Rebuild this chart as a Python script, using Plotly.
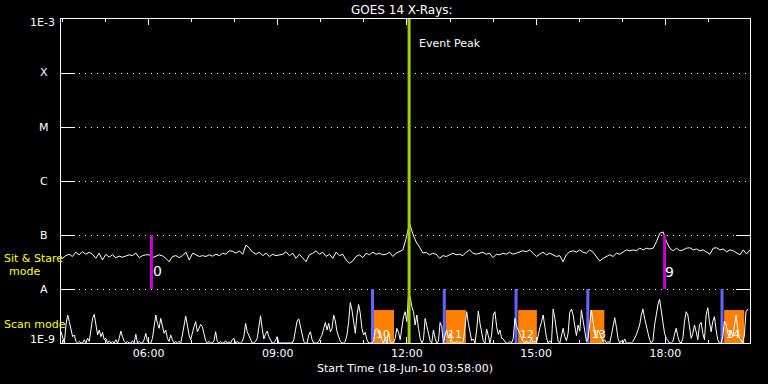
import pandas as pd
import plotly.graph_objects as go

# ---------------- data ----------------
# GOES long channel (1-8 A), in units of 1e-8 W/m^2, one sample every 279 s from 04:00
goes_long_start = "2010-06-18 04:00:00"
goes_long_step_s = 279
goes_long_e8 = [
    3.7, 4.15, 4.4, 4.0, 4.8, 4.3, 4.9, 4.4, 4.8, 4.4,
    3.7, 4.6, 3.45, 4.4, 3.9, 4.3, 3.8, 4.05, 3.87, 4.15,
    4.3, 4.15, 4.65, 3.8, 4.15, 4.3, 4.3, 3.8, 4.05, 4.3,
    4.1, 3.7, 3.2, 4.0, 4.15, 3.8, 4.15, 4.8, 3.45, 4.6,
    4.3, 4.0, 4.15, 4.0, 4.3, 4.05, 4.4, 4.15, 4.6, 4.4,
    5.1, 5.0,
    4.6, 5.1, 4.4, 6.5, 5.7, 4.8, 4.4, 4.8, 4.15, 4.6,
    4.0, 4.4, 4.15, 4.3, 4.4, 4.9, 4.15, 4.6, 3.7, 4.4,
    3.8, 3.2, 4.3, 4.6, 5.1, 4.4, 4.8, 4.0, 4.4, 3.7,
    4.8, 4.15, 4.4, 3.45, 3.0, 3.3, 4.0, 4.3, 3.8, 4.6,
    4.3, 4.8, 4.4, 4.6, 4.3, 4.4, 4.8, 4.0, 4.6, 4.9,
    5.3,
    8.7, 16.5,
    10.5, 7.4, 6.0, 4.65, 4.75,
    4.3, 4.6, 4.4, 3.7, 4.15, 4.0, 4.3, 4.6, 4.3, 4.4,
    4.15, 4.8, 5.3, 4.6, 4.4, 4.6, 4.8, 4.4, 4.6, 3.8,
    4.4, 4.3, 4.6, 4.4, 4.8, 4.4, 4.6, 4.9, 5.1, 4.9,
    5.3, 4.6, 4.0, 4.4, 4.8, 4.3, 4.6, 4.3, 4.0, 4.15,
    3.2, 4.3, 4.9, 5.1, 4.8, 5.3,
    4.8, 4.6, 5.3, 4.8, 4.0, 3.3, 3.7, 4.0, 4.3, 4.0,
    4.6, 4.4, 4.9, 5.3, 5.1, 5.3, 5.1, 5.7, 5.3, 5.7,
    5.5, 5.7, 7.5, 10.8, 11.4, 7.5, 5.7, 5.1, 5.7, 5.1,
    5.3, 5.7, 5.8, 5.3, 5.5, 5.1, 5.3, 4.8, 4.4, 5.7,
    5.8, 5.3, 5.5, 4.9, 5.3, 5.1, 4.6, 4.3, 5.3, 4.45,
    5.3,
]

# GOES short channel, in units of 1e-9 W/m^2, one sample every 139 s from 03:58
goes_short_start = "2010-06-18 03:58:00"
goes_short_step_s = 139
goes_short_e9 = [
    1.62, 1.22, 1.0, 2.15, 3.3, 2.48, 1.74, 1.31, 1.41, 1.07,
    1.0, 1.07, 1.0, 1.0, 1.15, 1.0, 1.22, 1.07, 1.74, 2.86,
    3.4, 2.15, 1.41, 1.74, 1.31, 1.57, 1.15, 1.22, 1.0, 1.1,
    1.0, 1.07, 1.0, 1.15, 1.0, 1.22, 1.66, 1.31, 1.07, 1.0,
    1.07, 1.0, 1.0, 1.1, 1.0, 1.45, 1.0, 1.07, 1.0, 1.0,
    1.15, 1.51, 1.07, 1.0, 1.0, 1.22, 2.31, 3.3, 2.31, 1.87,
    2.86, 2.15, 1.51, 1.74, 1.22, 1.07, 1.41, 1.15, 1.0, 1.07,
    1.0, 1.07, 1.0, 1.41, 2.15, 3.15, 2.15, 1.41, 1.15, 1.62,
    2.01, 2.48, 1.62, 1.87, 2.2, 2.01, 1.41, 1.1, 1.0, 1.07,
    1.0, 1.0, 1.1, 1.62, 1.07, 1.0, 1.07, 1.0, 1.0, 1.1,
    1.0, 1.05, 1.0, 1.15, 1.22,
    1.0, 1.07, 1.0, 1.0, 1.07, 1.31, 2.31, 1.62, 1.37, 1.1,
    1.0, 1.0, 1.07, 1.22, 1.87, 3.2, 1.87, 1.19, 1.45, 1.66,
    1.31, 1.15, 1.0, 1.0, 1.1, 1.31, 1.0, 1.0, 1.0, 1.0,
    1.0, 1.0, 1.0, 1.0, 1.0, 1.15, 1.87, 2.55, 2.8, 2.1,
    1.51, 1.07, 1.0, 1.0, 1.41, 1.62, 1.15, 1.0, 1.0, 1.0,
    1.07, 1.22, 1.41, 1.87, 2.4, 1.74, 2.31, 1.62, 1.87, 3.3,
    2.55, 1.62, 1.37, 1.07, 1.0, 1.0, 1.07, 1.41, 2.48, 5.6,
    4.08, 2.15, 1.51, 3.3, 5.15, 3.54, 1.87, 1.41, 1.57, 1.15,
    1.0, 1.0, 1.0, 1.07, 1.74, 1.87, 1.51, 1.62, 1.15, 1.0,
    1.25, 1.0, 1.57, 1.07, 1.0, 1.0, 1.22, 1.87, 1.57, 1.15,
    2.01, 3.07, 3.8, 2.48,
    7.7, 7.2, 4.7, 3.8, 2.15, 3.3, 1.87, 1.22, 1.0, 1.15,
    2.86, 2.15, 1.62, 1.1, 1.0, 1.74, 1.22, 1.0, 1.07, 2.4,
    2.01, 1.0, 1.41, 1.74, 1.22, 1.51, 1.1, 1.0, 1.0, 1.07,
    1.0, 1.0, 1.0, 1.07, 2.01, 3.8, 2.31, 1.57, 1.1, 1.19,
    1.0, 1.74, 3.9, 2.31, 1.51, 1.07, 1.0, 1.82, 1.37, 1.0,
    1.41, 3.3, 3.8, 2.01, 1.45, 1.74, 1.22, 1.19, 1.05, 1.0,
    1.0, 1.07, 1.0, 1.22, 2.86, 2.01, 1.74, 1.41, 1.25, 1.07,
    1.0, 1.1, 1.0, 1.0, 1.22, 1.0, 1.07, 1.0, 1.45, 1.92,
    2.48, 3.3, 2.01, 1.25, 1.0, 1.1, 1.0, 4.25, 2.86, 1.62,
    1.07, 1.0, 1.41, 1.87, 1.31, 1.1, 1.51, 3.7, 4.25, 3.3,
    2.1, 1.37, 2.15, 1.66,
    4.08, 2.48, 1.51, 1.07, 1.22, 2.48, 4.08, 2.48, 1.51, 1.22,
    1.74, 1.51, 1.31, 1.07, 1.15, 1.0, 1.07, 1.0, 1.37, 2.15,
    2.95, 2.01, 1.22, 1.0, 1.1, 1.0, 1.19, 1.0, 1.0, 1.0,
    1.0, 1.07, 1.22, 1.41, 1.74, 2.15, 3.3, 4.25, 2.86, 2.01,
    1.41, 1.15, 1.0, 1.1, 2.15, 3.54, 5.05, 6.5, 3.8, 2.1,
    1.51, 1.22, 1.1, 1.0, 1.0, 1.07, 1.45, 1.87, 1.31, 1.05,
    1.0, 1.22, 2.48, 3.8, 3.3, 1.87, 1.22, 1.51, 2.15, 1.62,
    1.15, 2.15, 2.4, 1.51, 1.15, 3.3, 4.5, 2.48, 1.62, 2.48,
    3.07, 1.74, 1.15, 1.0, 1.0, 1.31, 2.55, 2.2, 1.51, 1.31,
    1.74, 1.31, 2.01, 3.3, 1.87, 1.22, 1.15, 1.0, 1.41, 3.8,
    4.25,
]

x_range = ["2010-06-18 03:58", "2010-06-18 19:58"]
event_peak = "2010-06-18 12:03"

sit_stare_times = ["2010-06-18 06:04", "2010-06-18 17:59"]
sit_stare_labels = ["0", "9"]

scan_start_times = ["2010-06-18 11:12", "2010-06-18 12:52", "2010-06-18 14:32",
                    "2010-06-18 16:12", "2010-06-18 19:19"]
scan_box_begin = ["2010-06-18 11:14", "2010-06-18 12:54", "2010-06-18 14:35",
                  "2010-06-18 16:15", "2010-06-18 19:22"]
scan_box_end = ["2010-06-18 11:42", "2010-06-18 13:22", "2010-06-18 15:01",
                "2010-06-18 16:35", "2010-06-18 19:50"]
scan_labels = ["10", "11", "12", "13", "14"]
scan_box_level = 4.1e-9

flux_floor = 1e-9
class_A, class_B, flux_top = 1e-8, 1e-7, 1e-3

decade_vals = [1e-9, 1e-8, 1e-7, 1e-6, 1e-5, 1e-4, 1e-3]
decade_text = ["1E-9", "A", "B", "C", "M", "X", "1E-3"]

# ---------------- figure ----------------
t_long = pd.date_range(goes_long_start, periods=len(goes_long_e8), freq=f"{goes_long_step_s}s")
t_short = pd.date_range(goes_short_start, periods=len(goes_short_e9), freq=f"{goes_short_step_s}s")
y_long = [v * 1e-8 for v in goes_long_e8]
y_short = [v * 1e-9 for v in goes_short_e9]

WHITE = "#ffffff"
ORANGE = "#ff8000"
BLUE = "#6464ff"
MAGENTA = "#cc00cc"
GREEN = "#a0d000"
YELLOW = "#ffff00"
FONT = "DejaVu Sans"

fig = go.Figure()

# orange scan boxes
bx, by = [], []
for b, e in zip(scan_box_begin, scan_box_end):
    bx += [b, e, e, b, b, None]
    by += [flux_floor, flux_floor, scan_box_level, scan_box_level, flux_floor, None]
fig.add_trace(go.Scatter(x=bx, y=by, mode="lines", fill="toself", fillcolor=ORANGE,
                         line=dict(width=0, color=ORANGE), hoverinfo="skip"))

# blue scan start lines
lx, ly = [], []
for t in scan_start_times:
    lx += [t, t, None]
    ly += [flux_floor, class_A, None]
fig.add_trace(go.Scatter(x=lx, y=ly, mode="lines", line=dict(color=BLUE, width=3)))

# magenta sit & stare lines (on right axis, same scale)
mx, my = [], []
for t in sit_stare_times:
    mx += [t, t, None]
    my += [class_A, class_B, None]
fig.add_trace(go.Scatter(x=mx, y=my, mode="lines", line=dict(color=MAGENTA, width=3), yaxis="y2"))

# GOES curves
fig.add_trace(go.Scatter(x=t_short, y=y_short, mode="lines", line=dict(color=WHITE, width=1)))
fig.add_trace(go.Scatter(x=t_long, y=y_long, mode="lines", line=dict(color=WHITE, width=1)))

# event peak line
fig.add_trace(go.Scatter(x=[event_peak, event_peak], y=[flux_floor, flux_top], mode="lines",
                         line=dict(color=GREEN, width=3)))

ann = []
n_dec = len(decade_vals) - 1
for i, txt in enumerate(decade_text):
    if txt == "1E-3":
        ann.append(dict(x=-0.0058, y=0.9877, xanchor="right", text=txt))
    elif txt == "1E-9":
        ann.append(dict(x=-0.0058, y=0.0108, xanchor="right", text=txt))
    else:
        ann.append(dict(x=-0.0247, y=i / n_dec, xanchor="center", text=txt))
for a in ann:
    a.update(xref="paper", yref="paper", yanchor="middle", showarrow=False,
             font=dict(color=WHITE, size=11, family=FONT))

ann += [
    dict(text="GOES 14 X-Rays:", x=0.4945, y=1.0278, xref="paper", yref="paper", showarrow=False,
         xanchor="center", yanchor="middle", font=dict(color=WHITE, size=12, family=FONT)),
    dict(text="Event Peak", x=event_peak, xref="x", y=0.9259, yref="paper", xanchor="left",
         yanchor="middle", xshift=8, showarrow=False, font=dict(color=WHITE, size=11, family=FONT)),
    dict(text="Start Time (18-Jun-10 03:58:00)", x=0.4993, y=-0.0802, xref="paper", yref="paper",
         showarrow=False, xanchor="center", yanchor="middle", font=dict(color=WHITE, size=11, family=FONT)),
    dict(text="Sit &amp; Stare", x=-0.0856, y=0.2593, xref="paper", yref="paper", showarrow=False,
         xanchor="left", yanchor="middle", font=dict(color=YELLOW, size=11, family=FONT)),
    dict(text="mode", x=-0.053, y=0.2222, xref="paper", yref="paper", showarrow=False,
         xanchor="center", yanchor="middle", font=dict(color=YELLOW, size=11, family=FONT)),
    dict(text="Scan mode", x=-0.0856, y=0.0586, xref="paper", yref="paper", showarrow=False,
         xanchor="left", yanchor="middle", font=dict(color=YELLOW, size=11, family=FONT)),
]
for t, lab, yy, sh in zip(sit_stare_times, sit_stare_labels, [0.2207, 0.2191], [0, -2]):
    ann.append(dict(text=lab, x=t, xref="x", y=yy, yref="paper", xanchor="left", yanchor="middle",
                    xshift=sh, showarrow=False, font=dict(color=WHITE, size=14, family=FONT)))
for t, lab in zip(scan_box_begin, scan_labels):
    ann.append(dict(text=lab, x=t, xref="x", y=0.0247, yref="paper", xanchor="left", yanchor="middle",
                    xshift=0, showarrow=False, font=dict(color=WHITE, size=11, family=FONT)))

fig.update_layout(
    width=768, height=384,
    margin=dict(l=61, r=18, t=19, b=41),
    paper_bgcolor="black", plot_bgcolor="black",
    showlegend=False,
    annotations=ann,
    xaxis=dict(
        type="date", range=x_range, showgrid=False, zeroline=False,
        showline=True, linecolor=WHITE, linewidth=1, mirror="ticks",
        ticks="inside", ticklen=6, tickcolor=WHITE, tickwidth=1,
        dtick=3 * 3600000, tick0="2010-06-18 00:00", tickformat="%H:%M",
        tickfont=dict(color=WHITE, size=11, family=FONT),
        minor=dict(ticks="inside", ticklen=3, dtick=3600000, tickcolor=WHITE, showgrid=False),
    ),
    yaxis=dict(
        type="log", range=[-9, -3], tickvals=decade_vals, showticklabels=False,
        ticks="inside", ticklen=14, tickcolor=WHITE, tickwidth=1,
        showline=True, linecolor=WHITE, linewidth=1, zeroline=False,
        showgrid=True, gridcolor=WHITE, gridwidth=1, griddash="1px,5px",
    ),
    yaxis2=dict(
        type="log", range=[-9, -3], overlaying="y", side="right", tickvals=[class_A, class_B],
        showticklabels=False, ticks="inside", ticklen=14, tickcolor=WHITE, tickwidth=1,
        showline=True, linecolor=WHITE, linewidth=1, showgrid=False, zeroline=False,
    ),
)

fig.write_html("out.html", config={"displayModeBar": False},
               post_script="document.body.style.margin='0px';document.body.style.background='black';")
